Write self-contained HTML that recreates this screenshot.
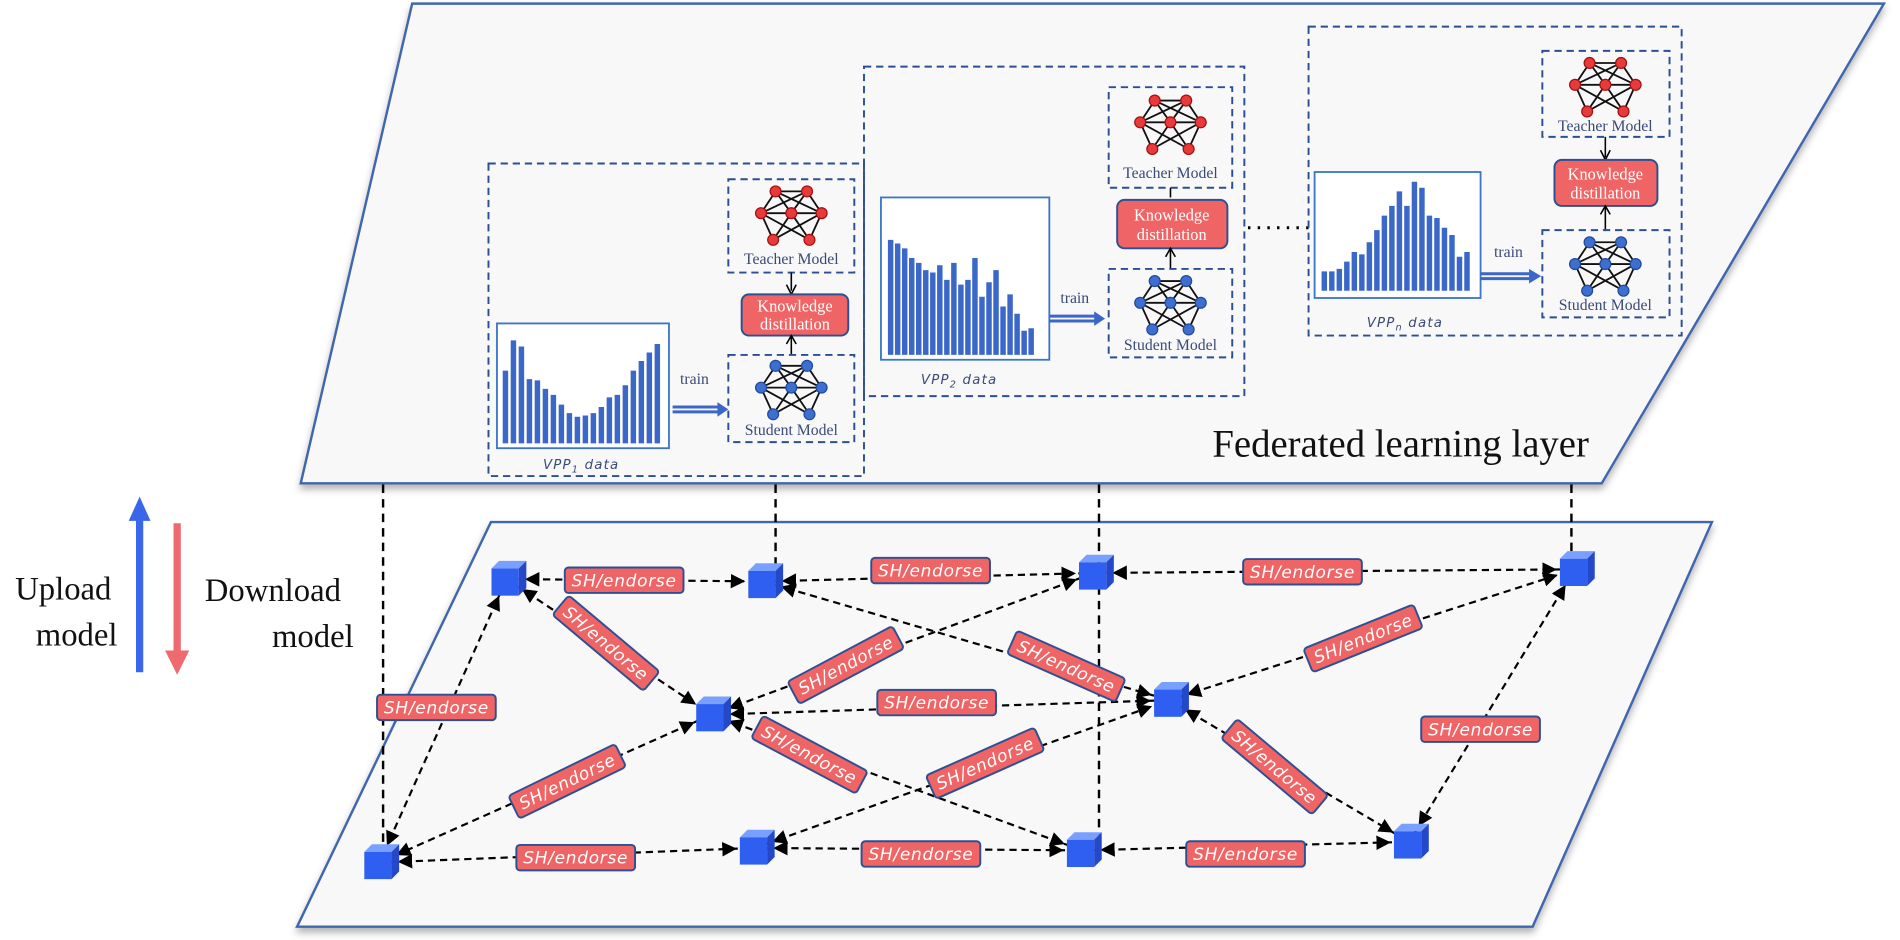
<!DOCTYPE html>
<html><head><meta charset="utf-8"><style>
html,body{margin:0;padding:0;background:#fff;width:1900px;height:940px;overflow:hidden}
svg{display:block}
.lbl rect{fill:#ef6566;stroke:#2d4f93;stroke-width:1.6}
.lbl text{fill:#fff;font-family:"DejaVu Sans","Liberation Sans",sans-serif;font-style:italic;font-size:14px;letter-spacing:0.6px;text-anchor:middle}
.e{stroke:#000;stroke-width:1.8;stroke-dasharray:6 4;fill:none;marker-start:url(#ah);marker-end:url(#ah)}
.db{fill:none;stroke:#2c4f93;stroke-width:1.6;stroke-dasharray:6 4}
.mt{font-family:"Liberation Serif",serif;font-size:13px;fill:#3a4a78;text-anchor:middle}
.kd{fill:#ef6566;stroke:#2d4f93;stroke-width:1.6}
.kt{font-family:"Liberation Serif",serif;font-size:13.5px;fill:#fff;text-anchor:middle}
.vl{font-family:"DejaVu Sans","Liberation Sans",sans-serif;font-style:italic;font-size:11px;fill:#3a4a78;letter-spacing:1px}
.bar{stroke:#3a67c8;stroke-width:4.5;fill:none}
.vd{stroke:#000;stroke-width:2;stroke-dasharray:7 5}
</style></head><body>
<svg width="1900" height="940" viewBox="0 0 1568 776" xmlns="http://www.w3.org/2000/svg">
<defs>
<marker id="ah" markerUnits="userSpaceOnUse" markerWidth="40" markerHeight="12" viewBox="0 0 40 12" refX="27" refY="6" orient="auto-start-reverse">
<path d="M0,0 L12,6 L0,12 z" fill="#000"/></marker>
<filter id="sh" x="-5%" y="-5%" width="110%" height="115%"><feDropShadow dx="0" dy="4" stdDeviation="3" flood-color="#000" flood-opacity="0.3"/></filter>
<g id="net">
<g stroke="#111" stroke-width="1.5">
<line x1="-13" y1="-20" x2="13" y2="-20"/><line x1="-13" y1="-20" x2="-25" y2="-2"/><line x1="13" y1="-20" x2="25" y2="-2"/>
<line x1="-25" y1="-2" x2="-15" y2="20"/><line x1="25" y1="-2" x2="15" y2="20"/>
<line x1="-13" y1="-20" x2="0" y2="-2"/><line x1="13" y1="-20" x2="0" y2="-2"/>
<line x1="-13" y1="-20" x2="25" y2="-2"/><line x1="13" y1="-20" x2="-25" y2="-2"/>
<line x1="-25" y1="-2" x2="15" y2="20"/><line x1="25" y1="-2" x2="-15" y2="20"/>
<line x1="0" y1="-2" x2="-15" y2="20"/><line x1="0" y1="-2" x2="15" y2="20"/>
<line x1="-25" y1="-2" x2="0" y2="-2"/><line x1="0" y1="-2" x2="25" y2="-2"/>
</g></g>
<g id="tn"><use href="#net"/><g fill="#e83a3a" stroke="#a01010" stroke-width="1">
<circle cx="-13" cy="-20" r="4.5"/><circle cx="13" cy="-20" r="4.5"/><circle cx="-25" cy="-2" r="4.5"/><circle cx="0" cy="-2" r="4.5"/><circle cx="25" cy="-2" r="4.5"/><circle cx="-15" cy="20" r="4.5"/><circle cx="15" cy="20" r="4.5"/></g></g>
<g id="sn"><use href="#net"/><g fill="#3e6fd0" stroke="#1f4a9a" stroke-width="1">
<circle cx="-13" cy="-20" r="4.5"/><circle cx="13" cy="-20" r="4.5"/><circle cx="-25" cy="-2" r="4.5"/><circle cx="0" cy="-2" r="4.5"/><circle cx="25" cy="-2" r="4.5"/><circle cx="-15" cy="20" r="4.5"/><circle cx="15" cy="20" r="4.5"/></g></g>
<g id="cube" transform="scale(1.25)">
<path d="M-10,-7 L-5,-12 L13,-12 L8,-7 z" fill="#7aa0ff"/>
<path d="M8,-7 L13,-12 L13,6 L8,11 z" fill="#2448c8"/>
<rect x="-10" y="-7" width="18" height="18" fill="#2f5ff0"/>
</g>
<g id="lb" class="lbl"><rect x="-49" y="-10.5" width="98" height="21" rx="3"/><text y="5">SH/endorse</text></g>
</defs>

<path d="M405,431 L1413,431 L1265,765 L245,765 z" fill="#f8f8f8" stroke="#3f66ad" stroke-width="2" filter="url(#sh)"/>
<path d="M340,3 L1555,3 L1322,399 L248,399 z" fill="#f8f8f8" stroke="#3f66ad" stroke-width="2" filter="url(#sh)"/>

<!-- VPP1 -->
<rect class="db" x="403" y="135" width="310" height="258"/>
<rect x="410" y="267" width="142" height="103" fill="#fff" stroke="#3a75c8" stroke-width="1.5"/>
<path class="bar" d="M417,366v-60M423.6,366v-85M430.2,366v-80M436.8,366v-53M443.4,366v-52M450,366v-45M456.6,366v-40M463.2,366v-32M469.8,366v-25M476.4,366v-22M483,366v-23M489.6,366v-25M496.2,366v-30M502.8,366v-38M509.4,366v-40M516,366v-48M522.6,366v-60M529.2,366v-68M535.8,366v-75M542.4,366v-82"/>
<text class="vl" x="448" y="387">VPP<tspan font-size="8" dy="3">1</tspan><tspan dy="-3"> data</tspan></text>
<text x="573" y="317" font-family="Liberation Serif,serif" font-size="13" fill="#3a4a78" text-anchor="middle">train</text>
<path d="M555,336 h38 M555,340 h38" stroke="#3a67c8" stroke-width="2.5"/><path d="M592,332 L601,338 L592,344 z" fill="#3a67c8"/>
<rect class="db" x="601" y="148" width="104" height="77"/>
<use href="#tn" x="653" y="178"/><text class="mt" x="653" y="218">Teacher Model</text>
<line x1="653" y1="225" x2="653" y2="240" stroke="#000" stroke-width="1.3"/><path d="M649,235 L653,243 L657,235" fill="none" stroke="#000" stroke-width="1.3"/>
<rect class="kd" x="612" y="243" width="88" height="34" rx="6"/><text class="kt" x="656" y="257">Knowledge</text><text class="kt" x="656" y="272">distillation</text>
<line x1="653" y1="293" x2="653" y2="278" stroke="#000" stroke-width="1.3"/><path d="M649,284 L653,277 L657,284" fill="none" stroke="#000" stroke-width="1.3"/>
<rect class="db" x="601" y="293" width="104" height="72"/>
<use href="#sn" x="653" y="322"/><text class="mt" x="653" y="359">Student Model</text>

<!-- VPP2 -->
<rect class="db" x="713" y="55" width="314" height="272"/>
<rect x="727" y="163" width="139" height="134" fill="#fff" stroke="#3a75c8" stroke-width="1.5"/>
<path class="bar" d="M735,293v-95M740.8,293v-92M746.6,293v-88M752.4,293v-80M758.2,293v-76M764,293v-70M769.8,293v-68M775.6,293v-74M781.4,293v-62M787.2,293v-76M793,293v-58M798.8,293v-62M804.6,293v-80M810.4,293v-48M816.2,293v-60M822,293v-70M827.8,293v-40M833.6,293v-50M839.4,293v-34M845.2,293v-20M851,293v-22"/>
<text class="vl" x="760" y="317">VPP<tspan font-size="8" dy="3">2</tspan><tspan dy="-3"> data</tspan></text>
<text x="887" y="250" font-family="Liberation Serif,serif" font-size="13" fill="#3a4a78" text-anchor="middle">train</text>
<path d="M866,261 h38 M866,265 h38" stroke="#3a67c8" stroke-width="2.5"/><path d="M903,257 L912,263 L903,269 z" fill="#3a67c8"/>
<rect class="db" x="915" y="72" width="102" height="83"/>
<use href="#tn" x="966" y="103"/><text class="mt" x="966" y="147">Teacher Model</text>
<line x1="966" y1="155" x2="966" y2="163" stroke="#000" stroke-width="1.3"/>
<rect class="kd" x="922" y="165" width="91" height="40" rx="6"/><text class="kt" x="967" y="182">Knowledge</text><text class="kt" x="967" y="198">distillation</text>
<line x1="966" y1="222" x2="966" y2="206" stroke="#000" stroke-width="1.3"/><path d="M962,212 L966,205 L970,212" fill="none" stroke="#000" stroke-width="1.3"/>
<rect class="db" x="915" y="222" width="102" height="73"/>
<use href="#sn" x="966" y="252"/><text class="mt" x="966" y="289">Student Model</text>

<line x1="1030" y1="188" x2="1090" y2="188" stroke="#000" stroke-width="2.5" stroke-dasharray="2 6"/>

<!-- VPPn -->
<rect class="db" x="1080" y="22" width="308" height="255"/>
<rect x="1085" y="142" width="137" height="104" fill="#fff" stroke="#3a75c8" stroke-width="1.5"/>
<path class="bar" d="M1093,240v-16M1099.2,240v-16M1105.4,240v-18M1111.6,240v-24M1117.8,240v-32M1124,240v-30M1130.2,240v-40M1136.4,240v-50M1142.6,240v-62M1148.8,240v-70M1155,240v-82M1161.2,240v-70M1167.4,240v-90M1173.6,240v-85M1179.8,240v-62M1186,240v-60M1192.2,240v-52M1198.4,240v-46M1204.6,240v-28M1210.8,240v-32"/>
<text class="vl" x="1128" y="270">VPP<tspan font-size="8" dy="3">n</tspan><tspan dy="-3"> data</tspan></text>
<text x="1245" y="212" font-family="Liberation Serif,serif" font-size="13" fill="#3a4a78" text-anchor="middle">train</text>
<path d="M1222,226 h40 M1222,230 h40" stroke="#3a67c8" stroke-width="2.5"/><path d="M1262,222 L1272,228 L1262,234 z" fill="#3a67c8"/>
<rect class="db" x="1273" y="42" width="105" height="71"/>
<use href="#tn" x="1325" y="72"/><text class="mt" x="1325" y="108">Teacher Model</text>
<line x1="1325" y1="113" x2="1325" y2="130" stroke="#000" stroke-width="1.3"/><path d="M1321,124 L1325,132 L1329,124" fill="none" stroke="#000" stroke-width="1.3"/>
<rect class="kd" x="1283" y="132" width="85" height="38" rx="6"/><text class="kt" x="1325" y="148">Knowledge</text><text class="kt" x="1325" y="164">distillation</text>
<line x1="1325" y1="190" x2="1325" y2="171" stroke="#000" stroke-width="1.3"/><path d="M1321,177 L1325,170 L1329,177" fill="none" stroke="#000" stroke-width="1.3"/>
<rect class="db" x="1273" y="190" width="105" height="72"/>
<use href="#sn" x="1325" y="220"/><text class="mt" x="1325" y="256">Student Model</text>

<text x="1156" y="377" font-family="Liberation Serif,serif" font-size="32" fill="#111" text-anchor="middle">Federated learning layer</text>

<line x1="115" y1="555" x2="115" y2="428" stroke="#3a66ea" stroke-width="6"/><path d="M106,430 L115,410 L124,430 z" fill="#3a66ea"/>
<line x1="146" y1="432" x2="146" y2="540" stroke="#ef6a6e" stroke-width="6"/><path d="M136,537 L146,557 L156,537 z" fill="#ef6a6e"/>
<text x="52" y="495" font-family="Liberation Serif,serif" font-size="27" fill="#111" text-anchor="middle">Upload</text>
<text x="63" y="533" font-family="Liberation Serif,serif" font-size="27" fill="#111" text-anchor="middle">model</text>
<text x="225" y="496" font-family="Liberation Serif,serif" font-size="27" fill="#111" text-anchor="middle">Download</text>
<text x="258" y="534" font-family="Liberation Serif,serif" font-size="27" fill="#111" text-anchor="middle">model</text>

<line class="vd" x1="316" y1="400" x2="316" y2="702"/>
<line class="vd" x1="640" y1="400" x2="640" y2="470"/>
<line class="vd" x1="907" y1="400" x2="907" y2="692"/>
<line class="vd" x1="1297" y1="400" x2="1297" y2="460"/>

<line class="e" x1="418" y1="478" x2="630" y2="480"/>
<line class="e" x1="630" y1="480" x2="903" y2="473"/>
<line class="e" x1="903" y1="473" x2="1300" y2="470"/>
<line class="e" x1="418" y1="478" x2="587" y2="590"/>
<line class="e" x1="313" y1="712" x2="418" y2="478"/>
<line class="e" x1="903" y1="473" x2="587" y2="590"/>
<line class="e" x1="630" y1="480" x2="965" y2="578"/>
<line class="e" x1="587" y1="590" x2="965" y2="578"/>
<line class="e" x1="965" y1="578" x2="1300" y2="470"/>
<line class="e" x1="587" y1="590" x2="313" y2="712"/>
<line class="e" x1="587" y1="590" x2="893" y2="702"/>
<line class="e" x1="623" y1="700" x2="965" y2="578"/>
<line class="e" x1="965" y1="578" x2="1163" y2="695"/>
<line class="e" x1="1300" y1="470" x2="1163" y2="695"/>
<line class="e" x1="313" y1="712" x2="623" y2="700"/>
<line class="e" x1="623" y1="700" x2="893" y2="702"/>
<line class="e" x1="893" y1="702" x2="1163" y2="695"/>

<use href="#lb" transform="translate(515,479)"/>
<use href="#lb" transform="translate(768,471)"/>
<use href="#lb" transform="translate(1075,472)"/>
<use href="#lb" transform="translate(500,531) rotate(40)"/>
<use href="#lb" transform="translate(360,584)"/>
<use href="#lb" transform="translate(698,549) rotate(-28)"/>
<use href="#lb" transform="translate(880,550) rotate(24)"/>
<use href="#lb" transform="translate(773,580)"/>
<use href="#lb" transform="translate(1125,527) rotate(-22)"/>
<use href="#lb" transform="translate(468,645) rotate(-26)"/>
<use href="#lb" transform="translate(668,623) rotate(28)"/>
<use href="#lb" transform="translate(813,630) rotate(-24)"/>
<use href="#lb" transform="translate(1052,633) rotate(40)"/>
<use href="#lb" transform="translate(1222,602)"/>
<use href="#lb" transform="translate(475,708)"/>
<use href="#lb" transform="translate(760,705)"/>
<use href="#lb" transform="translate(1028,705)"/>

<use href="#cube" x="418" y="478"/>
<use href="#cube" x="630" y="480"/>
<use href="#cube" x="903" y="473"/>
<use href="#cube" x="1300" y="470"/>
<use href="#cube" x="587" y="590"/>
<use href="#cube" x="965" y="578"/>
<use href="#cube" x="313" y="712"/>
<use href="#cube" x="623" y="700"/>
<use href="#cube" x="893" y="702"/>
<use href="#cube" x="1163" y="695"/>
</svg>
</body></html>
